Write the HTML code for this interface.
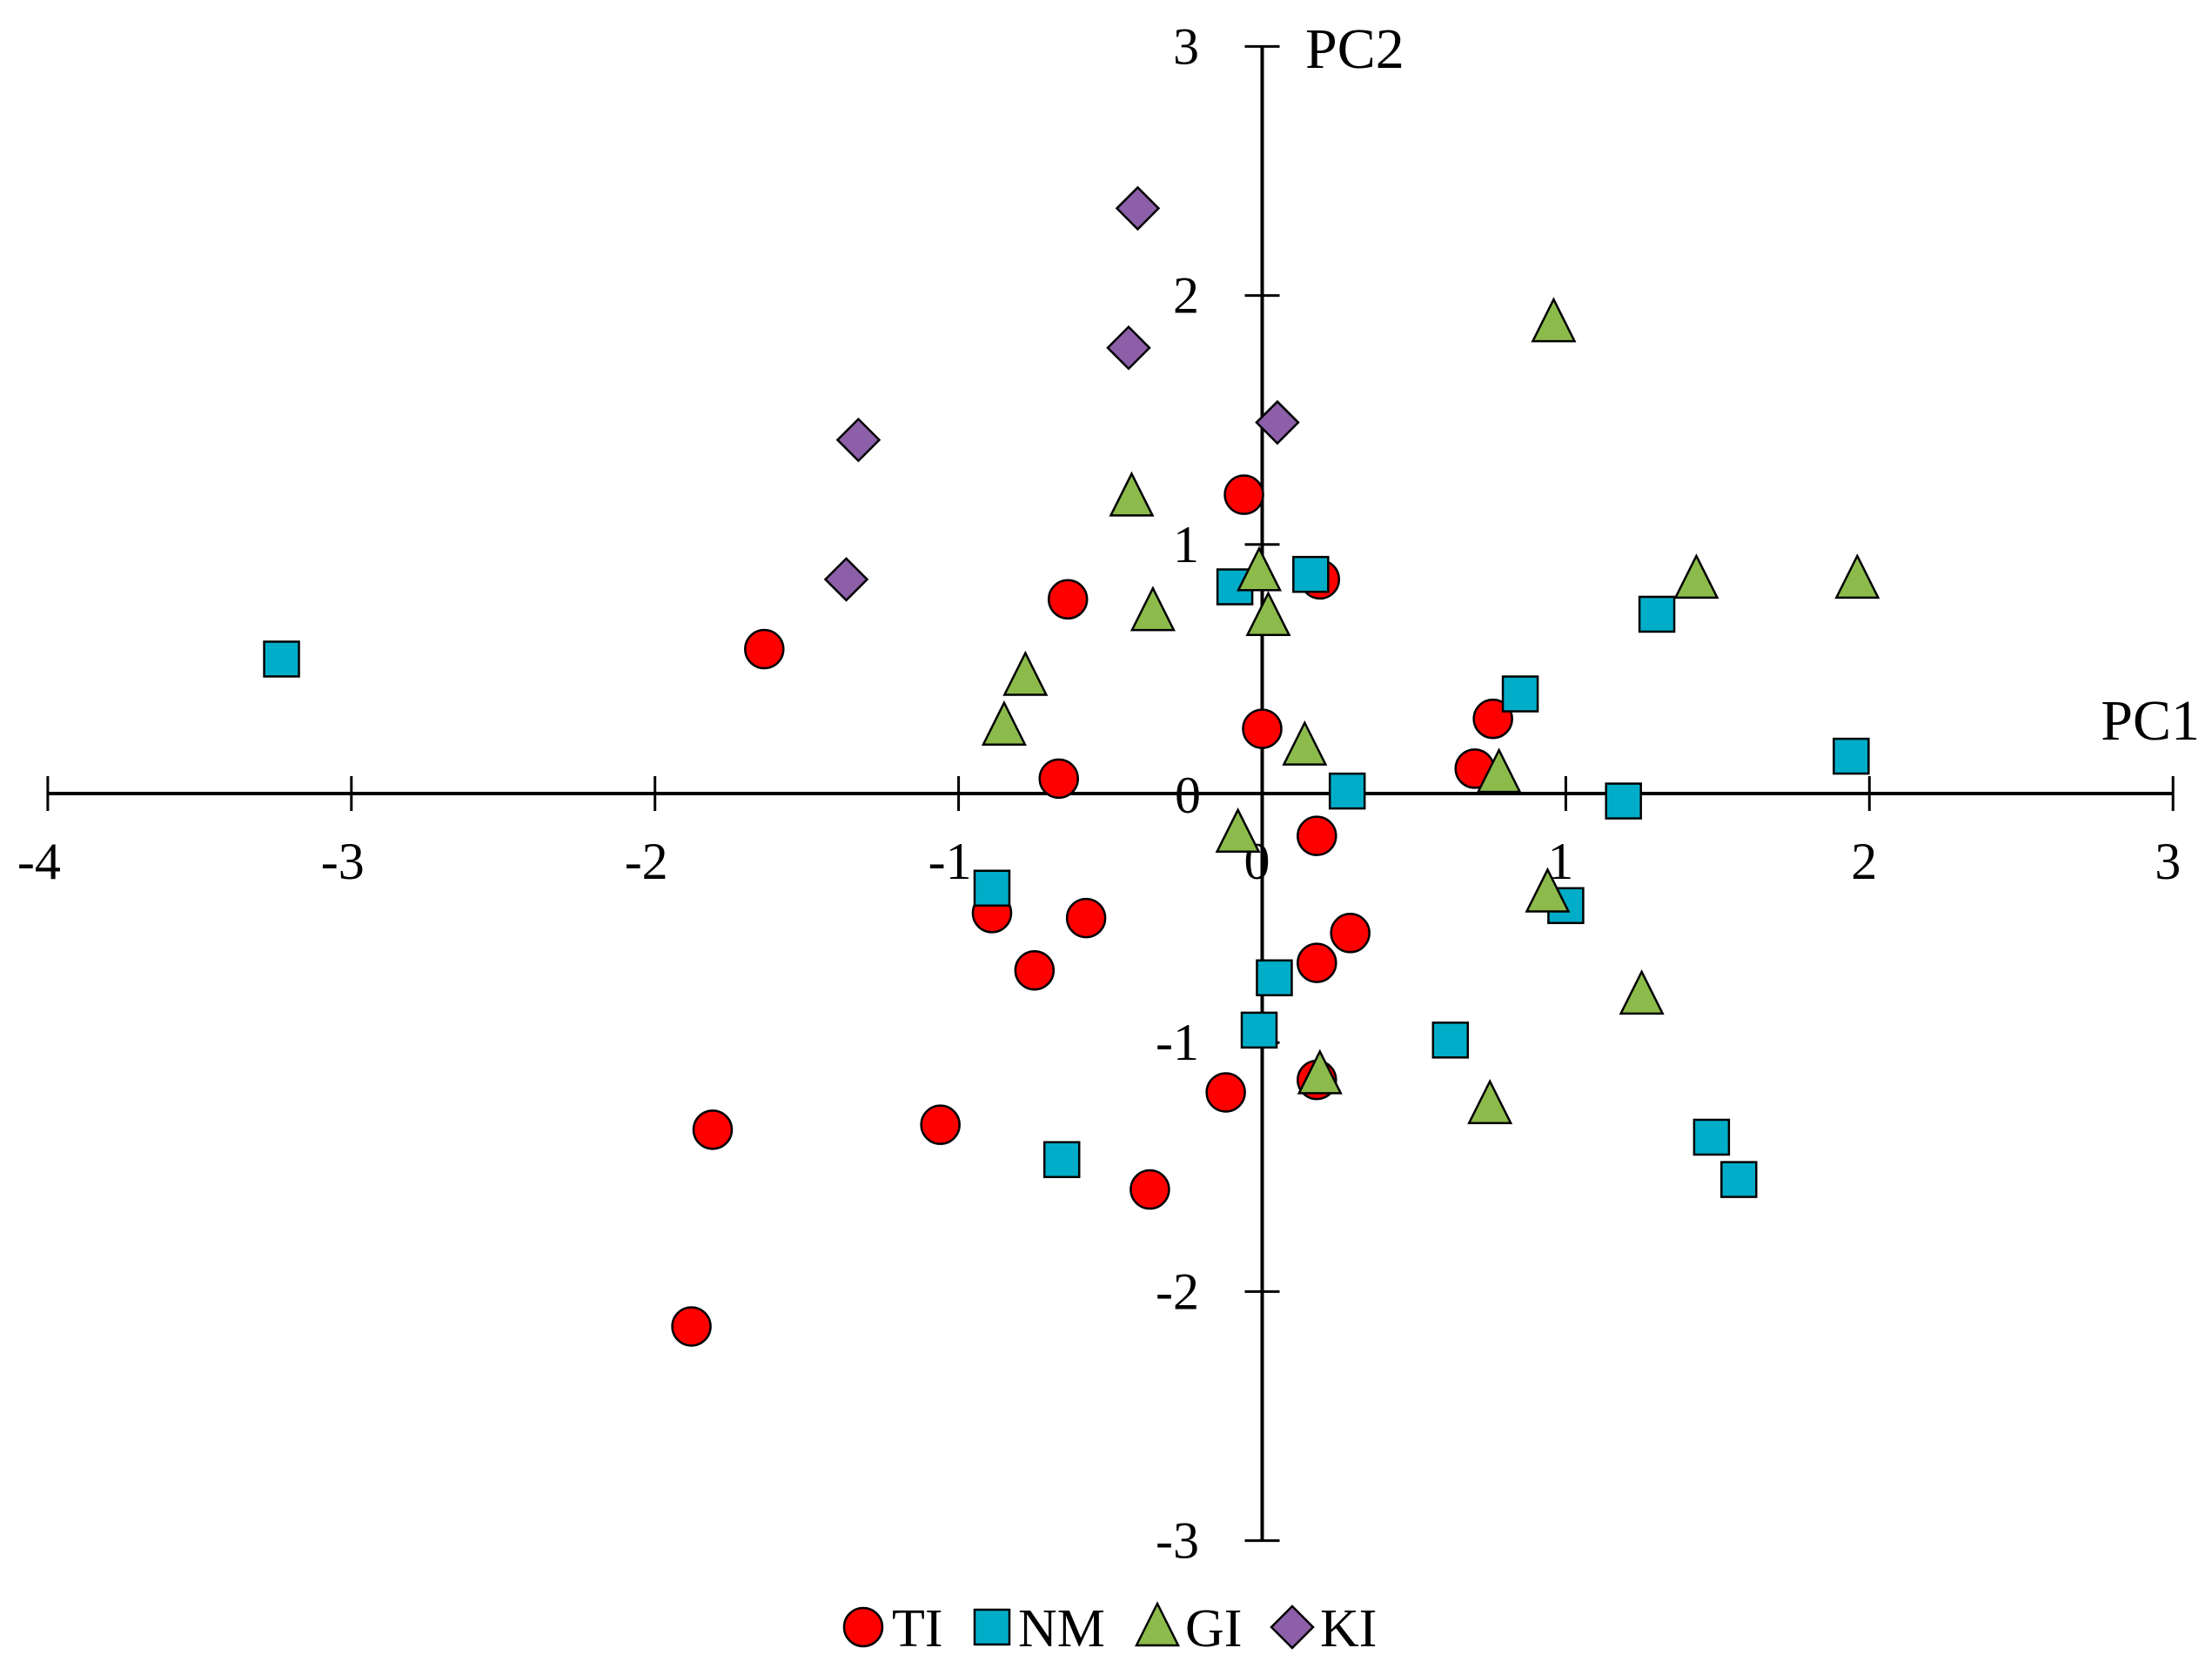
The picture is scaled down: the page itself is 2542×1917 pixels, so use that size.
<!DOCTYPE html>
<html><head><meta charset="utf-8"><style>
html,body{margin:0;padding:0;background:#fff;}
svg{display:block;font-family:"Liberation Serif",serif;}
</style></head><body>
<svg id="chart" width="2542" height="1917" viewBox="0 0 2542 1917" xmlns="http://www.w3.org/2000/svg">
<rect width="2542" height="1917" fill="#fff"/>
<g id="axes"></g>
<g id="marks"></g>
<g id="legend"></g>
</svg>
<script>
const xTicks = [-4,-3,-2,-1,0,1,2,3];
const yTicks = [-3,-2,-1,1,2,3];
const tiX = [-0.06,0.19,-0.64,-1.64,0,0.76,-0.67,0.70,0.18,-0.89,-0.58,0.29,0.18,-0.75,0.18,-0.12,-1.06,-1.81,-0.37,-1.88];
const tiY = [1.20,0.86,0.78,0.58,0.26,0.30,0.06,0.10,-0.17,-0.48,-0.50,-0.56,-0.68,-0.71,-1.15,-1.20,-1.33,-1.35,-1.59,-2.14];
const nmX = [-3.23,-0.09,0.16,1.30,0.85,1.94,0.28,1.19,-0.89,1.00,0.04,-0.01,0.62,1.48,1.57,-0.66];
const nmY = [0.54,0.83,0.88,0.72,0.40,0.15,0.01,-0.03,-0.38,-0.45,-0.74,-0.95,-0.99,-1.38,-1.55,-1.47];
const giX = [0.96,-0.43,-0.01,1.43,1.96,-0.36,0.02,-0.78,-0.85,0.14,0.78,-0.08,0.94,1.25,0.19,0.75];
const giY = [1.89,1.19,0.89,0.86,0.86,0.73,0.71,0.47,0.27,0.19,0.08,-0.16,-0.40,-0.81,-1.13,-1.25];
const kiX = [-0.41,-0.44,0.05,-1.33,-1.37];
const kiY = [2.35,1.79,1.49,1.42,0.86];

const NS="http://www.w3.org/2000/svg";
const X0=1450.5, XU=348.9, Y0=912, YU=286.2;
const sx=v=>X0+v*XU, sy=v=>Y0-v*YU;
function mk(tag,attrs,parent){const e=document.createElementNS(NS,tag);for(const k in attrs)e.setAttribute(k,attrs[k]);parent.appendChild(e);return e;}
const axes=document.getElementById('axes'), marks=document.getElementById('marks'), legend=document.getElementById('legend');

let l=mk('line',{x1:sx(-4),y1:Y0,x2:sx(3),y2:Y0,stroke:'#000','stroke-width':4},axes);


l=mk('line',{x1:X0,y1:sy(3),x2:X0,y2:sy(-3),stroke:'#000','stroke-width':4},axes);



xTicks.forEach(v=>{
  const t=mk('line',{x1:sx(v),y1:Y0-20,x2:sx(v),y2:Y0+20,stroke:'#000','stroke-width':3},axes);
  
  
  const tx=mk('text',{x:sx(v)-(v<0?10:6),y:1010,'font-size':60,'text-anchor':'middle'},axes);
  tx.textContent=v<0?'-'+Math.abs(v):String(v);
  
  
});
yTicks.forEach(v=>{
  const t=mk('line',{x1:X0-20,y1:sy(v),x2:X0+20,y2:sy(v),stroke:'#000','stroke-width':3},axes);
  
  
  const tx=mk('text',{x:1378,y:sy(v)+20,'font-size':60,'text-anchor':'end'},axes);
  tx.textContent=v<0?'-'+Math.abs(v):String(v);
  
  
});
let z=mk('text',{x:1365,y:Y0+22,'font-size':60,'text-anchor':'middle'},axes);z.textContent='0';


let t1=mk('text',{x:2528,y:850,'font-size':66,'text-anchor':'end'},axes);t1.textContent='PC1';


let t2=mk('text',{x:1500,y:78,'font-size':66},axes);t2.textContent='PC2';



function circle(x,y,p){return mk('circle',{cx:x,cy:y,r:22,fill:'#ff0000',stroke:'#000','stroke-width':2.5},p);}
function square(x,y,p){return mk('rect',{x:x-20,y:y-20,width:40,height:40,fill:'#00adc8',stroke:'#000','stroke-width':2.5},p);}
function tri(x,y,p){return mk('polygon',{points:`${x},${y-27} ${x+24},${y+21} ${x-24},${y+21}`,fill:'#8cbb4b',stroke:'#000','stroke-width':2.5},p);}
function dia(x,y,p){return mk('polygon',{points:`${x},${y-24} ${x+24},${y} ${x},${y+24} ${x-24},${y}`,fill:'#8c5fa8',stroke:'#000','stroke-width':2.5},p);}

tiX.forEach((v,i)=>{const e=circle(sx(v),sy(tiY[i]),marks);

});
nmX.forEach((v,i)=>{const e=square(sx(v),sy(nmY[i]),marks);

});
giX.forEach((v,i)=>{const e=tri(sx(v),sy(giY[i]),marks);

});
kiX.forEach((v,i)=>{const e=dia(sx(v),sy(kiY[i]),marks);

});

const LY=1870;
const items=[[circle,992,'TI',1025],[square,1140,'NM',1170],[tri,1330,'GI',1362],[dia,1485,'KI',1517]];
items.forEach(([f,mx,lab,tx])=>{
  const m=f(mx,LY,legend);
  
  
  const t=mk('text',{x:tx,y:LY+22,'font-size':62},legend);t.textContent=lab;
  
  
});
</script>
</body></html>
